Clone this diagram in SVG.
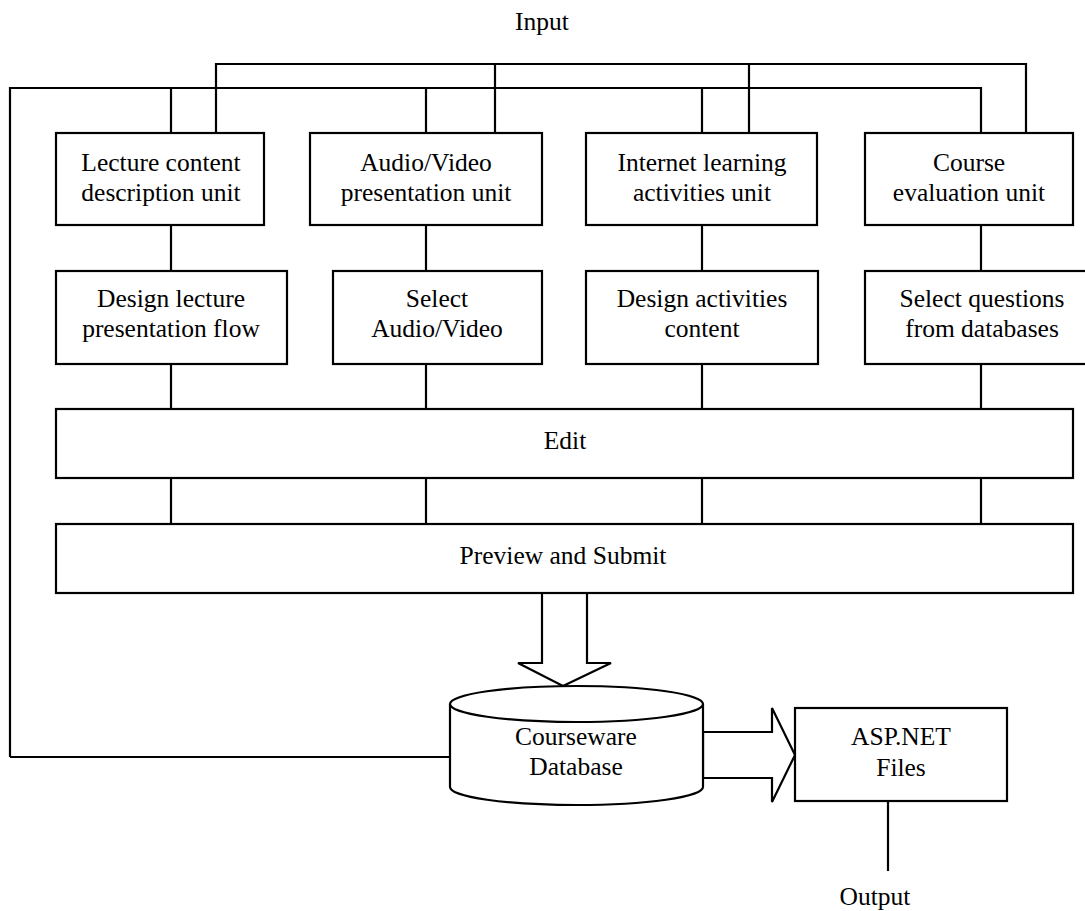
<svg xmlns="http://www.w3.org/2000/svg" width="1085" height="911" viewBox="0 0 1085 911">
<style>
.b{fill:#fff;stroke:#000;stroke-width:2.2}
.l{fill:none;stroke:#000;stroke-width:2.2}
text{font-family:"Liberation Serif","Times New Roman",serif;font-size:25.5px;fill:#000;text-anchor:middle}
</style>
<rect width="1085" height="911" fill="#fff"/>
<g id="connectors">
<path class="l" d="M216 133V64H1026V133"/>
<path class="l" d="M495 64V133M749 64V133"/>
<path class="l" d="M10 757V88H981V133"/>
<path class="l" d="M171 88V133M426 88V133M702 88V133"/>
<path class="l" d="M10 757H450"/>
<path class="l" d="M171 225V271M426 225V271M702 225V271M981 225V271"/>
<path class="l" d="M171 364V409M426 364V409M702 364V409M981 364V409"/>
<path class="l" d="M171 478V524M426 478V524M702 478V524M981 478V524"/>
<path class="b" d="M542 593V663H518L563 686L611 663H587V593"/>
<path class="b" d="M703 732H772V708L795 755L772 802V778H703Z"/>
<path class="l" d="M888 801V871"/>
</g>
<g id="input"><text x="542" y="30">Input</text></g>
<g id="n1"><rect class="b" x="56" y="133" width="208" height="92"/><text x="161" y="171">Lecture content</text><text x="161" y="201">description unit</text></g>
<g id="n2"><rect class="b" x="310" y="133" width="232" height="92"/><text x="426" y="171">Audio/Video</text><text x="426" y="201">presentation unit</text></g>
<g id="n3"><rect class="b" x="586" y="133" width="231" height="92"/><text x="702" y="171">Internet learning</text><text x="702" y="201">activities unit</text></g>
<g id="n4"><rect class="b" x="865" y="133" width="208" height="92"/><text x="969" y="171">Course</text><text x="969" y="201">evaluation unit</text></g>
<g id="n5"><rect class="b" x="56" y="271" width="231" height="93"/><text x="171" y="307">Design lecture</text><text x="171" y="337">presentation flow</text></g>
<g id="n6"><rect class="b" x="333" y="271" width="209" height="93"/><text x="437" y="307">Select</text><text x="437" y="337">Audio/Video</text></g>
<g id="n7"><rect class="b" x="586" y="271" width="232" height="93"/><text x="702" y="307">Design activities</text><text x="702" y="337">content</text></g>
<g id="n8"><rect class="b" x="865" y="271" width="230" height="93"/><text x="982" y="307">Select questions</text><text x="982" y="337">from databases</text></g>
<g id="edit"><rect class="b" x="56" y="409" width="1017" height="69"/><text x="565" y="449">Edit</text></g>
<g id="preview"><rect class="b" x="56" y="524" width="1017" height="69"/><text x="563" y="564">Preview and Submit</text></g>
<g id="db">
<path class="b" d="M450 704V787A126.5 18 0 0 0 703 787V704"/>
<ellipse class="b" cx="576.5" cy="704" rx="126.5" ry="18"/>
<text x="576" y="745">Courseware</text><text x="576" y="775">Database</text>
</g>
<g id="asp"><rect class="b" x="795" y="708" width="212" height="93"/><text x="901" y="745">ASP.NET</text><text x="901" y="776">Files</text></g>
<g id="output"><text x="875" y="905">Output</text></g>
</svg>
